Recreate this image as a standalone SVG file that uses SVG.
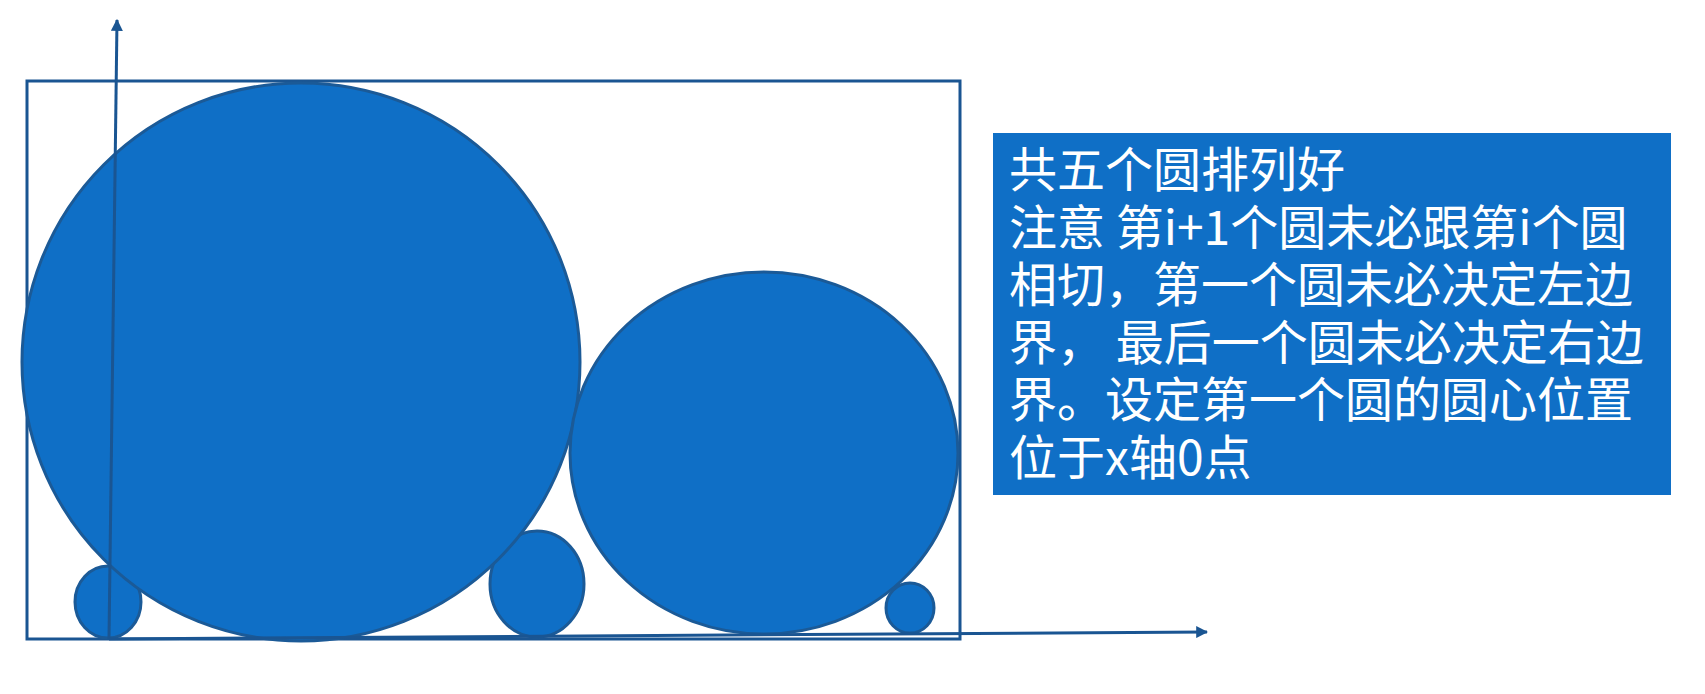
<svg xmlns="http://www.w3.org/2000/svg" width="1705" height="694" viewBox="0 0 1705 694">
<defs>
<style>
.c{fill:#0F6FC6;stroke:#1B5A97;stroke-width:3}
.frame{fill:none;stroke:#1A5592;stroke-width:3}
.axis{stroke:#1A5592;stroke-width:3;fill:none}
.note{fill:#0F6FC6}
.t{font-family:"Noto Sans CJK SC","Noto Sans",sans-serif;font-size:48px;fill:#FFFFFF}
</style>
<marker id="arr" viewBox="0 0 10 10" refX="9" refY="5" markerWidth="4" markerHeight="4" orient="auto" markerUnits="strokeWidth">
<path d="M0,0 L10,5 L0,10 z" fill="#1A5592"/>
</marker>
</defs>
<rect width="1705" height="694" fill="#FFFFFF"/>
<g id="frame"><rect class="frame" x="27" y="81" width="933" height="558"/></g>
<g id="circle1"><ellipse class="c" cx="108" cy="602" rx="33" ry="36"/></g>
<g id="circle3"><ellipse class="c" cx="537" cy="584" rx="47" ry="53"/></g>
<g id="circle2"><ellipse class="c" cx="301" cy="362" rx="279" ry="279"/></g>
<g id="circle4"><ellipse class="c" cx="764" cy="453" rx="194" ry="181"/></g>
<g id="circle5"><ellipse class="c" cx="910" cy="608" rx="24" ry="25"/></g>
<g id="connectors">
<line class="axis" x1="109" y1="639" x2="117" y2="20" marker-end="url(#arr)"/>
<line class="axis" x1="109" y1="639" x2="1207" y2="632" marker-end="url(#arr)"/>
</g>
<g id="note">
<rect class="note" x="993" y="133" width="678" height="362"/>
<text class="t" x="1009" y="187">共五个圆排列好</text>
<text class="t" x="1009" y="245">注意 第i+1个圆未必跟第i个圆</text>
<text class="t" x="1009" y="302">相切，第一个圆未必决定左边</text>
<text class="t" x="1009" y="360">界， 最后一个圆未必决定右边</text>
<text class="t" x="1009" y="417">界。设定第一个圆的圆心位置</text>
<text class="t" x="1009" y="475">位于x轴0点</text>
</g>
</svg>
